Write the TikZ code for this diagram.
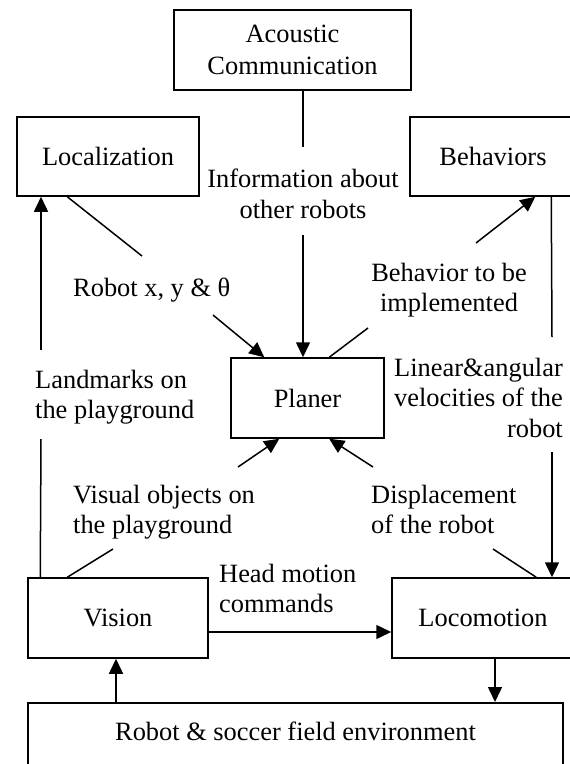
\documentclass[tikz,border=0pt]{standalone}
\usepackage{fontspec}
\setmainfont{Liberation Serif}
\usetikzlibrary{arrows.meta}
\begin{document}
\begin{tikzpicture}[x=1pt,y=-1pt,
  every node/.style={font=\fontsize{26.4}{30.5}\selectfont},
  box/.style={draw, line width=1.5pt, inner sep=0pt, align=center},
  lbl/.style={inner sep=0pt},
  conn/.style={line width=1.5pt},
  arr/.style={conn, -{Triangle[length=15pt,width=14pt]}}]
\useasboundingbox (0,0) rectangle (570,764);
% boxes
\node[box, minimum width=237, minimum height=80, font=\fontsize{26.4}{32}\selectfont] (acoustic) at (292.5,50) {Acoustic\\Communication};
\node[box, minimum width=182, minimum height=79] (loc) at (108,156.5) {Localization};
\node[box, minimum width=166, minimum height=79] (beh) at (493,156.5) {Behaviors};
\node[box, minimum width=153, minimum height=80] (planer) at (307.5,398) {Planer};
\node[box, minimum width=180, minimum height=80] (vision) at (118,618) {Vision};
\node[box, minimum width=182, minimum height=80] (loco) at (483,618) {Locomotion};
\node[box, minimum width=535, text height=38, text depth=50, anchor=north] (robot) at (295.5,702) {Robot \& soccer field environment};
% labels
\node[lbl, align=center] (info) at (303,194) {Information about\\other robots};
\node[lbl, anchor=base west] (pose) at (73,296) {Robot x, y \& θ};
\node[lbl, align=center] (btext) at (449,290) {Behavior to be\\implemented};
\node[lbl, align=left, anchor=west] (land) at (35,397) {Landmarks on\\the playground};
\node[lbl, align=right, anchor=east] (lin) at (563,397.5) {Linear\&angular\\velocities of the\\robot};
\node[lbl, align=left, anchor=west] (vis) at (73,512) {Visual objects on\\the playground};
\node[lbl, align=left, anchor=west] (disp) at (371,509.5) {Displacement\\of the robot};
\node[lbl, align=left, anchor=west] (head) at (219,588.5) {Head motion\\commands};
% free ends of broken connectors
\coordinate (i1) at (303,147); \coordinate (i2) at (303,235);
\coordinate (r1) at (142,256); \coordinate (r2) at (213,315);
\coordinate (b1) at (368,328); \coordinate (b2) at (476,243);
\coordinate (v1) at (552,337); \coordinate (v2) at (552,452);
\coordinate (d1) at (493,549); \coordinate (d2) at (373,467);
\coordinate (o1) at (113,549); \coordinate (o2) at (238,467);
\coordinate (m1) at (41,439);  \coordinate (m2) at (41,350);
% connectors
\draw[conn] (acoustic.south -| i1) -- (i1);
\draw[arr] (i2) -- (i2 |- planer.north);
\draw[conn] ([xshift=51]loc.south west) -- (r1);
\draw[arr] (r2) -- ([xshift=34]planer.north west);
\draw[conn] ([xshift=99]planer.north west) -- (b1);
\draw[arr] (b2) -- ([xshift=126]beh.south west);
\draw[conn] ([xshift=142]beh.south west) -- (v1);
\draw[arr] (v2) -- (v2 |- loco.north);
\draw[conn] ([xshift=145]loco.north west) -- (d1);
\draw[arr] (d2) -- ([xshift=99]planer.south west);
\draw[conn] ([xshift=40]vision.north west) -- (o1);
\draw[arr] (o2) -- ([xshift=49]planer.south west);
\draw[conn] ([xshift=13]vision.north west) -- (m1);
\draw[arr] (m2) -- (m2 |- loc.south);
\draw[arr] ([yshift=-14]vision.east) -- ([yshift=-14]loco.west);
\draw[arr] ([xshift=-2]vision.south |- robot.north) -- ([xshift=-2]vision.south);
\draw[arr] ([xshift=12]loco.south) -- ([xshift=12]loco.south |- robot.north);
\end{tikzpicture}
\end{document}
